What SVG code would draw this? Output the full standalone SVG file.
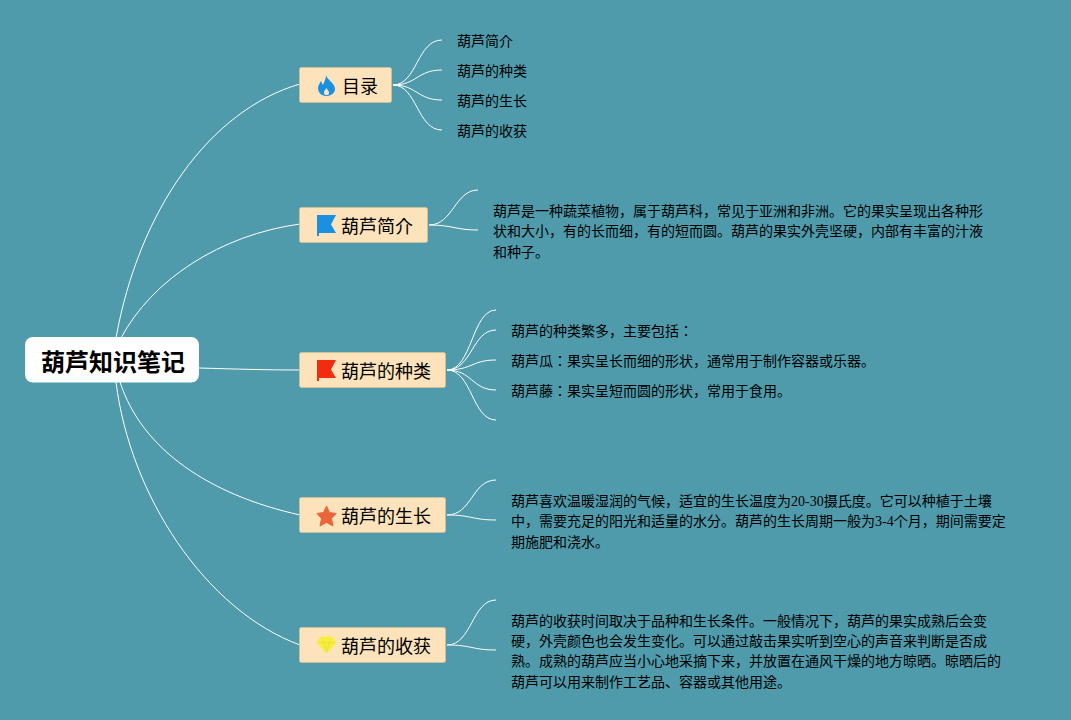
<svg xmlns="http://www.w3.org/2000/svg" width="1071" height="720" viewBox="0 0 1071 720">
<style>
.c{fill:none;stroke:#fff;stroke-width:1}
.n{fill:#fce3bb;stroke:#c9c39a;stroke-width:1}
.t{font-family:"Noto Sans CJK JP",sans-serif;font-size:18px;fill:#000}
.b{font-family:"Liberation Serif","Noto Sans CJK JP",serif;font-size:14px;fill:#000}
</style>
<rect width="1071" height="720" fill="#4f9bab"/>
<g id="connectors">
<path class="c" d="M116 338C139 210 210 110 300 84"/>
<path class="c" d="M121 338C152 280 220 235 300 224"/>
<path class="c" d="M199 368C235 369 265 370 300 370"/>
<path class="c" d="M120 382C142 450 210 495 300 515"/>
<path class="c" d="M116 382C130 495 205 610 300 645"/>
<path class="c" d="M393 85C417 85 417 40 442 40"/>
<path class="c" d="M393 85C417 85 417 70 442 70"/>
<path class="c" d="M393 85C417 85 417 100 442 100"/>
<path class="c" d="M393 85C417 85 417 130 442 130"/>
<path class="c" d="M429 225C453 225 455 190 478 190"/>
<path class="c" d="M429 225C453 225 455 230 478 230"/>
<path class="c" d="M447 370C472 370 472 310 496 310"/>
<path class="c" d="M447 370C472 370 472 330 496 330"/>
<path class="c" d="M447 370C472 370 472 360 496 360"/>
<path class="c" d="M447 370C472 370 472 390 496 390"/>
<path class="c" d="M447 370C472 370 472 420 496 420"/>
<path class="c" d="M447 515C472 515 472 480 496 480"/>
<path class="c" d="M447 515C472 515 472 520 496 520"/>
<path class="c" d="M447 645C472 645 472 600 496 600"/>
<path class="c" d="M447 645C472 645 472 650 496 650"/>
</g>
<g id="root"><rect x="25" y="337" width="174" height="45.500" rx="8" fill="#fff"/><text x="113" y="371" text-anchor="middle" style="font-family:'Noto Sans CJK JP',sans-serif;font-size:24px;font-weight:700" fill="#000">葫芦知识笔记</text></g>
<g id="n1"><rect class="n" x="299.500" y="67.500" width="92" height="35" rx="2"/><path d="M326 75C327 80 335 83 335 89C335 93 331 96 326.500 96C322 96 318 93 318 88C318 85 320 83 321 81C322 83 322 84 323 85C324 82 326 79 326 75ZM326.500 88C325.500 90 323.500 91 324 93.500C324.500 95.500 328.500 95.500 329 93.500C329.500 91.500 327.500 90 326.500 88Z" fill="#1b8fe0" fill-rule="evenodd"/><text class="t" x="342" y="93">目录</text></g>
<g id="n2"><rect class="n" x="299.500" y="207.500" width="128" height="35" rx="2"/><path d="M317 215H336L331 224.500L336 233H319V236H317Z" fill="#1b8fe0"/><text class="t" x="341" y="233">葫芦简介</text></g>
<g id="n3"><rect class="n" x="299.500" y="352.500" width="146" height="35" rx="2"/><path d="M317 360H336L331 369.500L336 378H319V381H317Z" fill="#f22c10"/><text class="t" x="341" y="378">葫芦的种类</text></g>
<g id="n4"><rect class="n" x="299.500" y="497.500" width="146" height="35" rx="2"/><path d="M326.500 506L329.500 512.500L336 513.500L331.500 518.500L333 526L326.500 522.500L320 526L321.500 518.500L317 513.500L323.500 512.500Z" fill="#e8663a" stroke="#e8663a" stroke-linejoin="round"/><text class="t" x="341" y="523">葫芦的生长</text></g>
<g id="n5"><rect class="n" x="299.500" y="627.500" width="146" height="35" rx="2"/><path d="M321 637H332L336 642.500L326.500 653L317 642.500Z" fill="#f9ee3c" stroke="#f9ee3c" stroke-linejoin="round"/><path d="M318 642.500H335M322 638L326.500 652L331 638" fill="none" stroke="#e9dc45" stroke-width="0.800"/><text class="t" x="341" y="653">葫芦的收获</text></g>
<g id="l1"><text class="b" x="457" y="46">葫芦简介</text><text class="b" x="457" y="76">葫芦的种类</text><text class="b" x="457" y="106">葫芦的生长</text><text class="b" x="457" y="136">葫芦的收获</text></g>
<g id="l2"><text class="b" x="493" y="216">葫芦是一种蔬菜植物，属于葫芦科，常见于亚洲和非洲。它的果实呈现出各种形</text><text class="b" x="493" y="236">状和大小，有的长而细，有的短而圆。葫芦的果实外壳坚硬，内部有丰富的汁液</text><text class="b" x="493" y="257">和种子。</text></g>
<g id="l3"><text class="b" x="511" y="336">葫芦的种类繁多，主要包括：</text><text class="b" x="511" y="366">葫芦瓜：果实呈长而细的形状，通常用于制作容器或乐器。</text><text class="b" x="511" y="396">葫芦藤：果实呈短而圆的形状，常用于食用。</text></g>
<g id="l4"><text class="b" x="511" y="506">葫芦喜欢温暖湿润的气候，适宜的生长温度为20-30摄氏度。它可以种植于土壤</text><text class="b" x="511" y="526">中，需要充足的阳光和适量的水分。葫芦的生长周期一般为3-4个月，期间需要定</text><text class="b" x="511" y="547">期施肥和浇水。</text></g>
<g id="l5"><text class="b" x="511" y="626">葫芦的收获时间取决于品种和生长条件。一般情况下，葫芦的果实成熟后会变</text><text class="b" x="511" y="646">硬，外壳颜色也会发生变化。可以通过敲击果实听到空心的声音来判断是否成</text><text class="b" x="511" y="666">熟。成熟的葫芦应当小心地采摘下来，并放置在通风干燥的地方晾晒。晾晒后的</text><text class="b" x="511" y="687">葫芦可以用来制作工艺品、容器或其他用途。</text></g>
</svg>
